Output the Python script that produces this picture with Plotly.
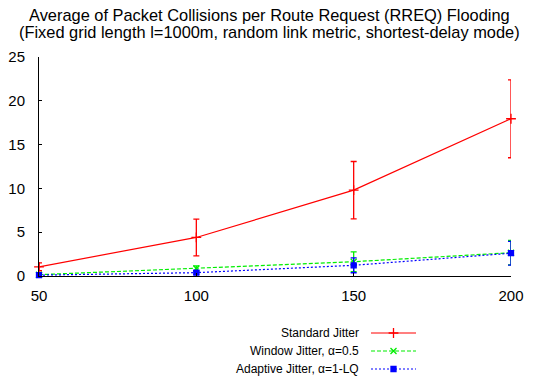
import plotly.graph_objects as go

nodes = [50, 100, 150, 200]

std_mean = [1.05, 4.4, 9.8, 17.95]
std_err = [0.45, 2.1, 3.27, 4.45]

win_mean = [0.15, 0.85, 1.63, 2.66]
win_err = [0.1, 0.3, 1.12, 1.4]

ada_mean = [0.1, 0.38, 1.22, 2.6]
ada_err = [0.1, 0.2, 0.85, 1.35]

names = ["Standard Jitter", "Window Jitter, \u03b1=0.5", "Adaptive Jitter, \u03b1=1-LQ"]
colors = ["#ff0000", "#00ee00", "#0000ff"]
dashes = ["solid", "4px,2px", "2px,2px"]
symbols = ["cross-thin", "x-thin", "square"]
msizes = [7, 6, 5]

W, H = 538, 377
L, R, T = 39, 27, 57
PLOT_BOTTOM = 276  # pixel of y=0
FONT = "Liberation Sans, Arial, sans-serif"

fig = go.Figure()

series = [(std_mean, std_err), (win_mean, win_err), (ada_mean, ada_err)]
for i, (m, e) in enumerate(series):
    fig.add_trace(go.Scatter(
        x=nodes, y=m, mode="lines+markers", name=names[i],
        line=dict(color=colors[i], width=1.2, dash=dashes[i]),
        marker=dict(symbol=symbols[i], size=msizes[i], color=colors[i],
                    line=dict(color=colors[i], width=1.3)),
        error_y=dict(type="data", array=e, visible=True, color=colors[i],
                     thickness=1.3, width=3),
        cliponaxis=False, showlegend=False,
        xaxis="x", yaxis="y",
    ))

# custom legend (text on left, sample on right), on a hidden pixel-space axis
legend_rows = [333, 351, 369]
for i in range(3):
    fig.add_trace(go.Scatter(
        x=[371, 416], y=[legend_rows[i]] * 2, mode="lines",
        line=dict(color=colors[i], width=1.2, dash=dashes[i]),
        showlegend=False, hoverinfo="skip", xaxis="x2", yaxis="y2",
    ))
    fig.add_trace(go.Scatter(
        x=[393.5], y=[legend_rows[i]], mode="markers",
        marker=dict(symbol=symbols[i], size=msizes[i], color=colors[i],
                    line=dict(color=colors[i], width=1.3)),
        showlegend=False, hoverinfo="skip", xaxis="x2", yaxis="y2",
    ))
    fig.add_annotation(x=361, y=legend_rows[i], xref="x2", yref="y2",
                       text=names[i], showarrow=False, xanchor="right",
                       yanchor="middle", font=dict(size=12, color="#000000", family=FONT))

area_h = H - T
main_bottom = (H - PLOT_BOTTOM) / area_h

fig.update_layout(
    width=W, height=H,
    margin=dict(l=L, r=R, t=T, b=0, pad=0, autoexpand=False),
    paper_bgcolor="white", plot_bgcolor="white",
    font=dict(family=FONT, color="#000000"),
    xaxis=dict(range=[50, 200], tickvals=nodes, ticks="inside", ticklen=3,
               tickcolor="#000000", showline=True, linecolor="#000000", linewidth=1,
               showgrid=False, zeroline=False, tickfont=dict(size=15),
               ticklabelstandoff=6, anchor="y", domain=[0, 1], automargin=False),
    yaxis=dict(range=[0, 25], tickvals=[0, 5, 10, 15, 20, 25], ticks="inside", ticklen=3,
               tickcolor="#000000", showline=True, linecolor="#000000", linewidth=1,
               showgrid=False, zeroline=False, tickfont=dict(size=15),
               ticklabelstandoff=10, anchor="x", domain=[main_bottom, 1], automargin=False),
    xaxis2=dict(range=[L, W - R], domain=[0, 1], visible=False, anchor="y2",
                fixedrange=True, automargin=False),
    yaxis2=dict(range=[H, PLOT_BOTTOM], domain=[0, main_bottom], visible=False,
                anchor="x2", fixedrange=True, automargin=False),
)

# Title as two tightly spaced lines (positions in paper fraction of the plot area)
for txt, ypix in [("Average of Packet Collisions per Route Request (RREQ) Flooding", 15),
                  ("(Fixed grid length l=1000m, random link metric, shortest-delay mode)", 32)]:
    fig.add_annotation(x=(W / 2 - L) / (W - L - R), y=(H - ypix) / area_h,
                       xref="paper", yref="paper", text=txt, showarrow=False,
                       xanchor="center", yanchor="middle",
                       font=dict(size=16.4, color="#000000", family=FONT))

fig.write_html("out.html")
